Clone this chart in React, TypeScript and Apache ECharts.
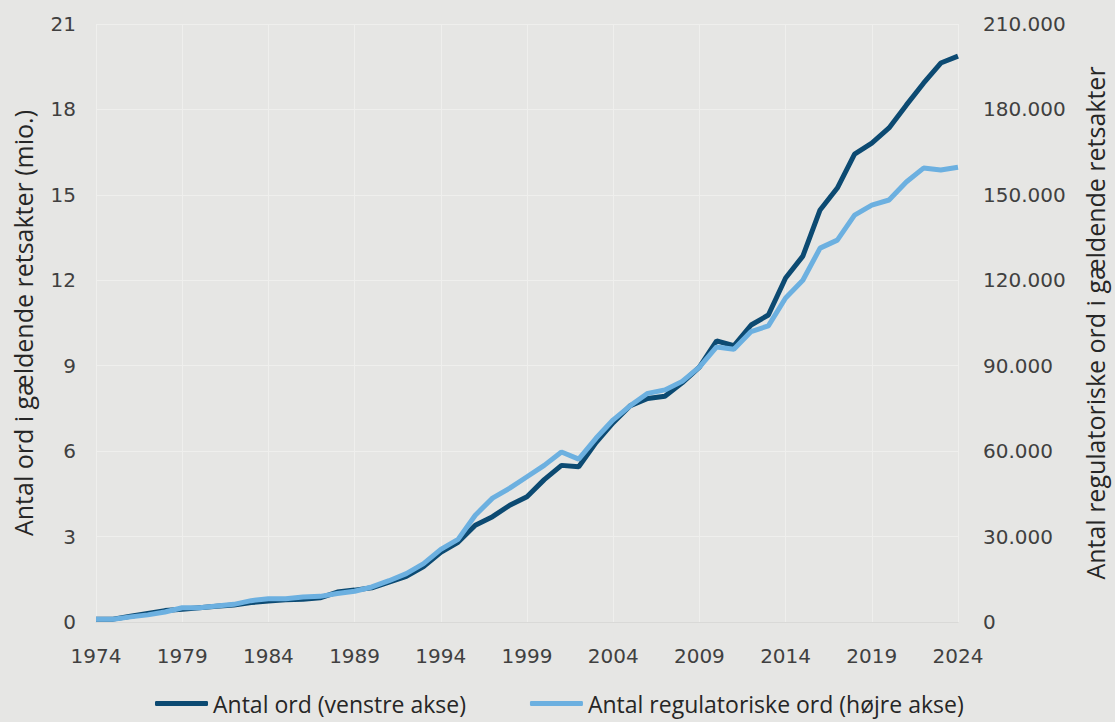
import React, { useEffect, useRef } from "react";
import * as echarts from "echarts";

const years: string[] = [];
for (let y = 1974; y <= 2024; y++) years.push(String(y));

// Antal ord (mio.) - venstre akse
const antalOrd = [
  0.1, 0.1, 0.2, 0.3, 0.4, 0.45, 0.5, 0.55, 0.6, 0.68,
  0.74, 0.78, 0.8, 0.85, 1.05, 1.12, 1.2, 1.4, 1.6, 1.95,
  2.45, 2.8, 3.4, 3.7, 4.1, 4.4, 5.0, 5.5, 5.45, 6.3,
  7.0, 7.6, 7.85, 7.93, 8.4, 8.95, 9.87, 9.7, 10.43, 10.78,
  12.08, 12.85, 14.47, 15.24, 16.43, 16.82, 17.35, 18.15, 18.92, 19.63,
  19.87,
];

// Antal regulatoriske ord - højre akse
const regulatoriskeOrd = [
  1000, 1000, 1800, 2500, 3500, 5000, 5000, 5600, 6200, 7500,
  8200, 8200, 8800, 9000, 10000, 10800, 12300, 14500, 17000, 20500,
  25500, 29000, 37500, 43500, 47000, 51000, 55000, 59700, 57200, 64500,
  71000, 76000, 80300, 81500, 84500, 89500, 96600, 95800, 102000, 104000,
  113800, 120000, 131300, 134100, 142900, 146400, 148200, 154500, 159400, 158700,
  159700,
];

const seriesNames = ["Antal ord (venstre akse)", "Antal regulatoriske ord (højre akse)"];
const axisNames = ["Antal ord i gældende retsakter (mio.)", "Antal regulatoriske ord i gældende retsakter"];

export default function App() {
  const ref = useRef<HTMLDivElement>(null);
  useEffect(() => {
    document.body.style.margin = "0";
    document.body.style.overflow = "hidden";
    document.documentElement.style.overflow = "hidden";
    const chart = echarts.init(ref.current!, null, { renderer: "svg" });
    const tickFont = "DejaVu Sans";
    const titleFont = "Open Sans";
    const grid = "#efefed";
    chart.setOption({
      animation: false,
      backgroundColor: "#e6e6e4",
      grid: { left: 96, right: 152, top: 24, bottom: 100, containLabel: false },
      legend: {
        left: 155,
        top: 692,
        padding: 0,
        itemWidth: 53,
        itemHeight: 5,
        itemGap: 64,
        icon: "roundRect",
        textStyle: { fontFamily: titleFont, fontSize: 23, color: "#262626" },
        data: seriesNames,
      },
      xAxis: {
        type: "category",
        data: years,
        boundaryGap: false,
        axisTick: { show: false },
        axisLine: { show: true, lineStyle: { color: "#d9d9d7", width: 1 } },
        axisLabel: {
          interval: 4,
          margin: 24,
          fontFamily: tickFont,
          fontSize: 20,
          color: "#404040",
        },
        splitLine: { show: true, interval: 4, lineStyle: { color: grid, width: 1 } },
      },
      yAxis: [
        {
          type: "value",
          min: 0,
          max: 21,
          interval: 3,
          position: "left",
          name: axisNames[0],
          nameLocation: "middle",
          nameGap: 61,
          nameTextStyle: { fontFamily: titleFont, fontSize: 25, color: "#262626" },
          axisLine: { show: false },
          axisTick: { show: false },
          axisLabel: { margin: 20, fontFamily: tickFont, fontSize: 20, color: "#404040" },
          splitLine: { show: true, lineStyle: { color: grid, width: 1 } },
        },
        {
          type: "value",
          min: 0,
          max: 210000,
          interval: 30000,
          position: "right",
          name: axisNames[1],
          nameLocation: "middle",
          nameRotate: 90,
          nameGap: 124,
          nameTextStyle: { fontFamily: titleFont, fontSize: 25, color: "#262626" },
          axisLine: { show: false },
          axisTick: { show: false },
          axisLabel: {
            margin: 25,
            fontFamily: tickFont,
            fontSize: 20,
            color: "#404040",
            formatter: (v: number) => (v === 0 ? "0" : v.toLocaleString("de-DE")),
          },
          splitLine: { show: false },
        },
      ],
      series: [
        {
          name: seriesNames[1],
          type: "line",
          yAxisIndex: 1,
          data: regulatoriskeOrd,
          showSymbol: false,
          lineStyle: { color: "#6cb0e0", width: 5 },
          itemStyle: { color: "#6cb0e0" },
        },
        {
          name: seriesNames[0],
          type: "line",
          yAxisIndex: 0,
          data: antalOrd,
          showSymbol: false,
          lineStyle: { color: "#0c4a72", width: 5 },
          itemStyle: { color: "#0c4a72" },
          z: 1,
        },
      ],
    });
    return () => chart.dispose();
  }, []);
  return <div ref={ref} style={{ width: 1115, height: 722 }} />;
}
